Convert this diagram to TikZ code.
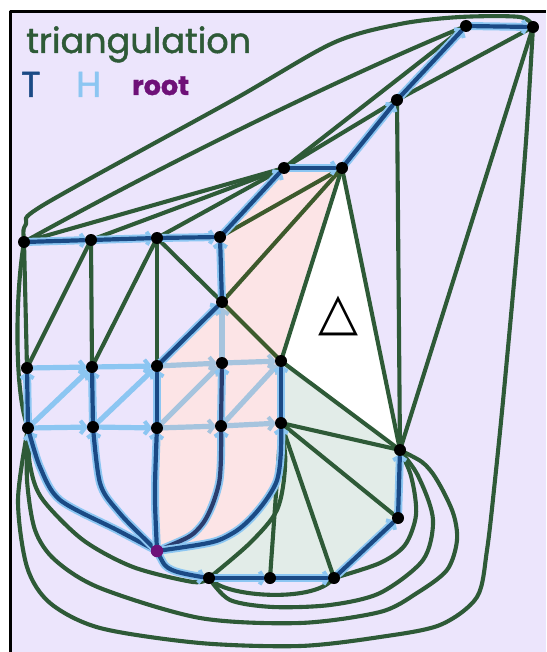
\documentclass[tikz,border=0pt]{standalone}
\usepackage{fontspec}
\newfontfamily\hand[FakeBold=1.3]{Poppins}
\newfontfamily\dejavu{DejaVu Sans}
\usetikzlibrary{arrows.meta}
\definecolor{lav}{HTML}{ECE5FC}
\definecolor{pinkr}{HTML}{FCE4E6}
\definecolor{greyg}{HTML}{E2ECE8}
\definecolor{tri}{HTML}{2E5A37}
\definecolor{trio}{HTML}{3D5A2C}
\definecolor{tdark}{HTML}{1B4A85}
\definecolor{tnavy}{HTML}{2A3D6E}
\definecolor{hlight}{HTML}{8CC6F2}
\definecolor{hpink}{HTML}{A6C4DE}
\definecolor{rootc}{HTML}{6E1078}
\begin{document}
\begin{tikzpicture}[x=1pt,y=-1pt,line cap=round,line join=round,
  gedge/.style={draw=tri,line width=4.1pt,shorten <=4pt,shorten >=4pt},
  oedge/.style={gedge,draw=trio},
  hedge/.style={draw=hlight,line width=5.2pt,-{Straight Barb[length=5pt,width=13pt,line width=4pt]},shorten >=5pt,shorten <=5pt},
  hpedge/.style={hedge,draw=hpink},
  tedge/.style={draw=tdark,line width=4.2pt,shorten >=7pt,shorten <=3pt,
    preaction={draw=hlight,line width=8pt,-{Straight Barb[length=4pt,width=13pt,line width=4pt]},shorten >=4pt,shorten <=3pt}},
  nedge/.style={tedge,draw=tnavy},
  dot/.style={circle,fill=black,inner sep=0pt,minimum size=12pt},
]
\useasboundingbox (0,0) rectangle (546,652);
\fill[white] (0,0) rectangle (546,652);
\fill[lav] (10,11) rectangle (546,652);
\draw[line width=3.5pt,line cap=butt] (10.5,652) -- (10.5,11.5) -- (546,11.5);

% vertices
\coordinate (A1) at (466,26);
\coordinate (A2) at (533,27);
\coordinate (B) at (397,100);
\coordinate (C1) at (284,168);
\coordinate (C2) at (342,168);
\coordinate (R1a) at (24,242);
\coordinate (R1b) at (91,240);
\coordinate (R1c) at (157,238);
\coordinate (R1d) at (220,237);
\coordinate (D) at (222,302);
\coordinate (r2a) at (27,368);
\coordinate (r2b) at (92,367);
\coordinate (r2c) at (157,366);
\coordinate (r2d) at (222,363);
\coordinate (r2e) at (281,361);
\coordinate (r3a) at (28,428);
\coordinate (r3b) at (93,427);
\coordinate (r3c) at (157,428);
\coordinate (r3d) at (221,426);
\coordinate (r3e) at (281,423);
\coordinate (root) at (157,551);
\coordinate (b1) at (209,578);
\coordinate (b2) at (270,578);
\coordinate (b3) at (334,578);
\coordinate (E) at (398,518);
\coordinate (F) at (400,450);

% regions
\filldraw[fill=pinkr,draw=white,line width=4pt] (C1) -- (C2) -- (r2e) -- (r3e)
  -- plot[smooth] coordinates {(r3e) (276,483) (233,533) (root)} -- (r3c) -- (r2c) -- (D) -- (R1d) -- cycle;
\filldraw[fill=white,draw=white,line width=4pt] (C2) -- (r2e) -- (F) -- cycle;
\filldraw[fill=greyg,draw=white,line width=4pt] (r2e) -- (F) -- (E) -- (b3) -- (b2) -- (b1)
  -- plot[smooth] coordinates {(b1) (172,570) (root)}
  -- plot[smooth] coordinates {(root) (233,533) (276,483) (r3e)} -- cycle;

% H edges
\draw[hedge] (r2a) -- (r2b);
\draw[hedge] (r2b) -- (r2c);
\draw[hpedge] (r2c) -- (r2d);
\draw[hpedge] (r2d) -- (r2e);
\draw[hedge] (r3a) -- (r3b);
\draw[hedge] (r3b) -- (r3c);
\draw[hpedge] (r3c) -- (r3d);
\draw[hpedge] (r3d) -- (r3e);
\draw[hedge] (r3a) -- (r2b);
\draw[hedge] (r3b) -- (r2c);
\draw[hpedge] (r3c) -- (r2d);
\draw[hpedge] (r3d) -- (r2e);
\draw[hpedge] (r2d) -- (D);

% triangulation edges
\draw[gedge] plot[smooth,tension=0.5] coordinates {(R1a) (26,224) (45,204) (233,100) (333,43) (400,24) (460,17) (520,17) (A2)};
\draw[gedge] (R1a) .. controls (150,172) and (330,82) .. (A1);
\draw[gedge] (R1a) -- (C1);
\draw[gedge] (R1b) -- (C1);
\draw[gedge] (R1c) -- (C1);
\draw[gedge] (C1) -- (A1);
\draw[gedge] (C1) -- (B);
\draw[gedge] (A2) -- (B);
\draw[gedge] (A2) -- (F);
\draw[gedge] (B) -- (F);
\draw[gedge] (C2) -- (F);
\draw[gedge] (C2) -- (r2e);
\draw[oedge] (C2) -- (D);
\draw[oedge] (C2) -- (R1d);
\draw[oedge] (D) -- (r2e);
\draw[gedge] (R1c) -- (D);
\draw[gedge] (R1a) -- (r2a);
\draw[gedge] (R1b) -- (r2a);
\draw[gedge] (R1b) -- (r2b);
\draw[gedge] (R1c) -- (r2b);
\draw[gedge] (R1c) -- (r2c);
\draw[gedge] (R1a) .. controls (15,300) and (15,390) .. (r3a);
\draw[gedge] (r2e) -- (F);
\draw[gedge] (r3e) -- (F);
\draw[gedge] (r3e) -- (E);
\draw[gedge] (r3e) -- (b3);
\draw[gedge] (r3e) -- (b2);
\draw[gedge] plot[smooth] coordinates {(r3e) (285,467) (277,510) (250,543) (b1)};
\draw[gedge] (b1) .. controls (230,597) and (310,602) .. (b3);
\draw[gedge] plot[smooth] coordinates {(F) (412,480) (416,515) (405,545) (380,563) (b3)};
\draw[gedge] plot[smooth] coordinates {(F) (420,480) (433,520) (423,560) (380,593) (330,605) (273,607) (230,600) (b1)};
\draw[gedge] plot[smooth] coordinates {(F) (430,470) (452,510) (457,540) (447,570) (417,593) (380,612) (300,623) (200,618) (100,588) (55,560) (35,530) (27,480) (r3a)};
\draw[gedge] plot[smooth] coordinates {(r3a) (31,470) (43,500) (83,540) (133,567) (193,582) (b1)};
\draw[gedge] plot[smooth] coordinates {(A2) (523,180) (505,380) (495,480) (487,550) (477,597) (440,625) (380,637) (300,646) (200,643) (100,628) (50,603) (27,567) (18,500) (r3a)};

% T edges
\draw[tedge] (A1) -- (A2);
\draw[tedge] (B) -- (A1);
\draw[tedge] (C2) -- (B);
\draw[tedge] (C1) -- (C2);
\draw[tedge] (R1d) -- (C1);
\draw[tedge] (D) -- (R1d);
\draw[tedge] (r2c) -- (D);
\draw[tedge] (R1a) -- (R1b);
\draw[tedge] (R1b) -- (R1c);
\draw[tedge] (R1c) -- (R1d);
\draw[tedge] (r3a) -- (r2a);
\draw[tedge] (r3b) -- (r2b);
\draw[tedge] (r3c) -- (r2c);
\draw[nedge] (r3d) -- (r2d);
\draw[tedge] (r3e) -- (r2e);
\draw[tedge] plot[smooth] coordinates {(root) (117,530) (60,500) (40,467) (r3a)};
\draw[tedge] plot[smooth] coordinates {(root) (117,510) (100,483) (r3b)};
\draw[tedge] plot[smooth] coordinates {(root) (155,490) (r3c)};
\draw[nedge] plot[smooth] coordinates {(root) (200,527) (219,483) (r3d)};
\draw[tedge] plot[smooth] coordinates {(root) (233,533) (276,483) (r3e)};
\draw[tedge] plot[smooth] coordinates {(root) (172,570) (b1)};
\draw[tedge] (b1) -- (b2);
\draw[tedge] (b2) -- (b3);
\draw[tedge] (b3) -- (E);
\draw[tedge] (E) -- (F);

% vertex dots
\foreach \v in {A1,A2,B,C1,C2,R1a,R1b,R1c,R1d,D,r2a,r2b,r2c,r2d,r2e,r3a,r3b,r3c,r3d,r3e,b1,b2,b3,E,F}
  \node[dot] (n\v) at (\v) {};
\node[dot,fill=rootc,minimum size=12.5pt] (nroot) at (root) {};

% face label
\node[inner sep=0pt,font=\dejavu\fontsize{52}{52}\selectfont] (delta) at (338,316) {△};

% legend
\node[anchor=base west,inner sep=0pt,text=tri,font=\hand\fontsize{35}{35}\selectfont] (title) at (26,53) {triangulation};
\node[anchor=base west,inner sep=0pt,text=tdark,font=\hand\fontsize{36}{36}\selectfont] (lT) at (21,97) {T};
\node[anchor=base west,inner sep=0pt,text=hlight,font=\hand\fontsize{36}{36}\selectfont] (lH) at (76,97) {H};
\node[anchor=base west,inner sep=0pt,text=rootc,font=\hand\bfseries\fontsize{27}{27}\selectfont] (lroot) at (132,95) {root};
\end{tikzpicture}
\end{document}
